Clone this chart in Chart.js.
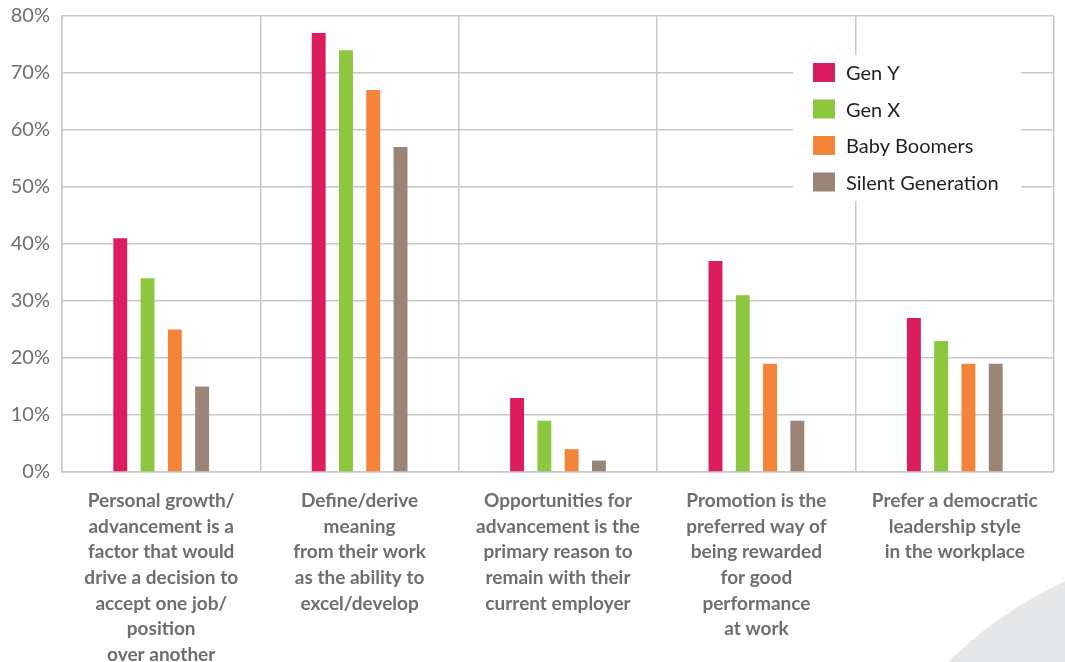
<!DOCTYPE html>
<html>
<head>
<meta charset="utf-8">
<script src="https://cdn.jsdelivr.net/npm/chart.js@4"></script>
<style>
  html, body { margin: 0; padding: 0; background: #fff; overflow: hidden; }
  #wrap { position: relative; width: 1065px; height: 662px; }
</style>
</head>
<body>
<div id="wrap"><canvas id="chart"></canvas></div>
<script>
// data
const categories = [
  ['Personal growth/', 'advancement is a', 'factor that would', 'drive a decision to', 'accept one job/', 'position', 'over another'],
  ['Define/derive', 'meaning', 'from their work', 'as the ability to', 'excel/develop'],
  ['Opportunities for', 'advancement is the', 'primary reason to', 'remain with their', 'current employer'],
  ['Promotion is the', 'preferred way of', 'being rewarded', 'for good', 'performance', 'at work'],
  ['Prefer a democratic', 'leadership style', 'in the workplace']
];
const seriesNames = ['Gen Y', 'Gen X', 'Baby Boomers', 'Silent Generation'];
const genY = [41, 77, 13, 37, 27];
const genX = [34, 74, 9, 31, 23];
const boomers = [25, 67, 4, 19, 19];
const silent = [15, 57, 2, 9, 19];
const colors = ['#db1c5e', '#8dc63f', '#f3843a', '#9b8577'];
const yTicks = [0, 10, 20, 30, 40, 50, 60, 70, 80];

const gridColor = '#c8c8c8';
const labelColor = '#6d6e71';

// grey swoosh in the bottom right corner
const swoosh = {
  id: 'swoosh',
  beforeDraw(chart) {
    const ctx = chart.ctx;
    ctx.save();
    ctx.fillStyle = '#e6e7e8';
    ctx.beginPath();
    ctx.moveTo(1065, 581);
    ctx.quadraticCurveTo(995, 615, 948, 662);
    ctx.lineTo(1065, 662);
    ctx.closePath();
    ctx.fill();
    ctx.restore();
  }
};

// legend drawn inside the plot on a white box
const boxLegend = {
  id: 'boxLegend',
  afterDatasetsDraw(chart) {
    const ctx = chart.ctx;
    ctx.save();
    ctx.fillStyle = '#ffffff';
    ctx.fillRect(793, 55, 228, 146);
    ctx.font = '20px Lato';
    ctx.textBaseline = 'middle';
    chart.data.datasets.forEach((ds, i) => {
      const y = 73 + i * 36.5;
      ctx.fillStyle = ds.backgroundColor;
      ctx.fillRect(813, y - 10, 22, 19);
      ctx.fillStyle = '#231f20';
      ctx.fillText(ds.label, 846, y + 1);
    });
    ctx.restore();
  }
};

const datasets = [genY, genX, boomers, silent].map((vals, i) => ({
  label: seriesNames[i],
  data: vals,
  backgroundColor: colors[i],
  categoryPercentage: 0.55,
  barPercentage: 0.51
}));

new Chart(document.getElementById('chart'), {
  type: 'bar',
  data: { labels: categories, datasets: datasets },
  plugins: [swoosh, boxLegend],
  options: {
    responsive: true,
    maintainAspectRatio: false,
    animation: false,
    layout: { padding: { top: 16, right: 11, left: 0, bottom: 0 } },
    plugins: {
      legend: { display: false },
      tooltip: { enabled: false }
    },
    scales: {
      x: {
        grid: { color: gridColor, lineWidth: 1.5, drawTicks: false, offset: true },
        border: { color: gridColor, width: 1.5 },
        ticks: {
          color: labelColor,
          font: { family: 'Lato', size: 19, weight: 'bold', lineHeight: 1.35 },
          padding: 16,
          maxRotation: 0,
          autoSkip: false
        },
        afterFit(s) { s.height = 190; }
      },
      y: {
        min: 0,
        max: 80,
        afterBuildTicks(s) { s.ticks = yTicks.map(v => ({ value: v })); },
        grid: { color: gridColor, lineWidth: 1.5, drawTicks: false },
        border: { color: gridColor, width: 1.5 },
        ticks: {
          color: labelColor,
          font: { family: 'Lato', size: 20 },
          padding: 12,
          callback: v => v + '%'
        },
        afterFit(s) {
          s.width = 62;
          s.paddingTop = 0;
          s.paddingBottom = 0;
        }
      }
    }
  }
});
</script>
</body>
</html>
